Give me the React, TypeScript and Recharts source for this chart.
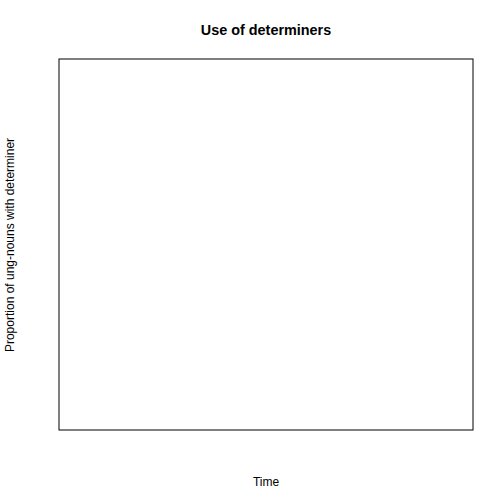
import React from "react";
import { LineChart, Line, XAxis, YAxis, Customized } from "recharts";

// The reference plot is empty: no observations are drawn.
const times: number[] = [];
const proportions: number[] = [];
const title = "Use of determiners";
const xLabel = "Time";
const yLabel = "Proportion of ung-nouns with determiner";

const data = times.map((t, i) => ({ time: t, prop: proportions[i] }));

const W = 504;
const H = 504;
const margin = { top: 59, right: 31, bottom: 74, left: 59 };

const Labels = () => (
  <g fontFamily="'Liberation Sans', Arial, Helvetica, sans-serif" fill="#000">
    <rect
      x={margin.left}
      y={margin.top}
      width={W - margin.left - margin.right}
      height={H - margin.top - margin.bottom}
      fill="none"
      stroke="#000"
      strokeWidth={1}
    />
    <text x={266} y={35} textAnchor="middle" fontSize={14.4} fontWeight="bold">
      {title}
    </text>
    <text x={266} y={486} textAnchor="middle" fontSize={12}>
      {xLabel}
    </text>
    <text
      x={14}
      y={245}
      textAnchor="middle"
      fontSize={12}
      transform="rotate(-90 14 245)"
    >
      {yLabel}
    </text>
  </g>
);

export default function App() {
  return (
    <div style={{ position: "absolute", left: 0, top: 0, width: W, height: H, background: "#fff" }}>
      <LineChart width={W} height={H} data={data} margin={margin}>
        <XAxis type="number" dataKey="time" domain={[0, 1]} hide />
        <YAxis type="number" domain={[0, 1]} hide />
        <Line dataKey="prop" stroke="#000" dot={false} isAnimationActive={false} />
        <Customized component={Labels} />
      </LineChart>
    </div>
  );
}
